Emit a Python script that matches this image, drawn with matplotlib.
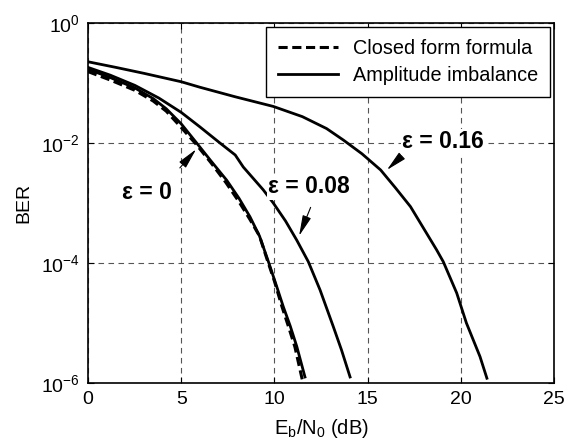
import matplotlib
matplotlib.use("Agg")
import matplotlib.pyplot as plt
import numpy as np

plt.rcParams['font.family'] = ['Liberation Sans', 'DejaVu Sans']
plt.rcParams['mathtext.fontset'] = 'custom'
plt.rcParams['mathtext.rm'] = 'Liberation Sans'
plt.rcParams['mathtext.it'] = 'Liberation Sans:italic'
plt.rcParams['mathtext.bf'] = 'Liberation Sans:bold'

# Closed form formula (dashed)
closed_x = [0, 1.2, 2.5, 3.5, 4.2, 5.0, 5.8, 6.6, 7.4, 8.1, 8.7, 9.2, 9.6, 10.0, 10.4, 10.8, 11.1, 11.5]
closed_ber = [0.155, 0.112, 0.0759, 0.0501, 0.0339, 0.0182, 0.00955, 0.00468, 0.00219, 0.00105,
              5.25e-4, 2.82e-4, 1.17e-4, 5.0e-5, 1.9e-5, 7.9e-6, 4.0e-6, 1.12e-6]

# Amplitude imbalance, eps = 0
eps0_x = [0, 1.2, 2.5, 3.5, 4.2, 5.0, 5.83, 6.6, 7.44, 8.1, 8.69, 9.2, 9.68, 10.1, 10.48, 10.85, 11.2, 11.64]
eps0_ber = [0.170, 0.123, 0.0832, 0.0550, 0.0372, 0.0209, 0.0100, 0.00501, 0.00240, 0.00120,
            5.89e-4, 2.82e-4, 1.05e-4, 4.27e-5, 1.86e-5, 8.9e-6, 4.07e-6, 1.26e-6]

# eps = 0.08
eps008_x = [0, 1.2, 2.52, 3.8, 5.0, 6.0, 7.08, 7.9, 8.33, 9.4, 9.94, 10.6, 11.2, 11.82, 12.45, 13.16, 13.6, 14.06]
eps008_ber = [0.182, 0.135, 0.0912, 0.0562, 0.0324, 0.0186, 0.0100, 0.00631, 0.00398, 0.00166,
              0.00100, 5.0e-4, 2.4e-4, 1.05e-4, 3.55e-5, 8.7e-6, 3.55e-6, 1.26e-6]

# eps = 0.16
eps016_x = [0, 1.5, 3.0, 5.0, 6.0, 7.9, 9.94, 11.5, 12.8, 13.7, 14.7, 15.7, 16.5, 17.3, 18.0,
            18.7, 19.06, 19.78, 20.3, 21.03, 21.4]
eps016_ber = [0.226, 0.182, 0.145, 0.105, 0.0851, 0.0589, 0.0407, 0.0275, 0.0174, 0.0112, 0.0066,
              0.00355, 0.00178, 8.7e-4, 3.8e-4, 1.66e-4, 1.05e-4, 3.16e-5, 1.0e-5, 2.75e-6, 1.2e-6]

x_ticks = [0, 5, 10, 15, 20, 25]
y_ticks = [1e-6, 1e-4, 1e-2, 1e0]
y_tick_labels = [r'$10^{-6}$', r'$10^{-4}$', r'$10^{-2}$', r'$10^{0}$']

fig = plt.figure(figsize=(5.75, 4.46), dpi=100)
ax = fig.add_axes([0.153, 0.1413, 0.8105, 0.8071])

ax.semilogy(closed_x, closed_ber, color='black', lw=2.2, linestyle=(0, (3, 1.5)),
            label='Closed form formula', zorder=4)
ax.semilogy(eps0_x, eps0_ber, color='black', lw=2.0, label='Amplitude imbalance', zorder=3)
ax.semilogy(eps008_x, eps008_ber, color='black', lw=2.0, zorder=3)
ax.semilogy(eps016_x, eps016_ber, color='black', lw=2.0, zorder=3)

ax.set_xlim(0, 25)
ax.set_ylim(1e-6, 1e0)
ax.set_xticks(x_ticks)
ax.set_yticks(y_ticks)
ax.set_yticklabels(y_tick_labels)
ax.yaxis.set_minor_locator(matplotlib.ticker.NullLocator())
ax.tick_params(axis='both', which='major', direction='in', top=True, right=True,
               labelsize=14, length=4, width=0.8, pad=6)
for s in ax.spines.values():
    s.set_linewidth(1.2)

ax.grid(True, which='major', color='#555555', linestyle=(0, (5, 4)), linewidth=0.8)

ax.set_xlabel(r'E$_\mathregular{b}$/N$_\mathregular{0}$ (dB)', fontsize=14.5, labelpad=6)
ax.set_ylabel('BER', fontsize=14, labelpad=6)

leg = ax.legend(loc='upper right', fontsize=14.3, frameon=True, fancybox=False,
                edgecolor='black', framealpha=1, handlelength=3.0,
                borderaxespad=0.2, borderpad=0.6, labelspacing=0.42, handletextpad=0.75)
leg.get_frame().set_linewidth(1.0)

bbox = dict(facecolor='white', edgecolor='none', pad=1)
arrow = dict(arrowstyle='-|>,head_length=0.7,head_width=0.15', color='black', lw=0.8,
             mutation_scale=18)

ax.annotate('', xy=(5.9, 10**-2.07), xytext=(4.83, 10**-2.45), arrowprops=arrow, zorder=5)
ax.text(1.8, 10**-2.82, 'ε = 0', fontsize=16.5, fontweight='bold', ha='left', va='center',
        bbox=bbox, zorder=5)

ax.annotate('', xy=(11.27, 10**-3.59), xytext=(12.0, 10**-3.03), arrowprops=arrow, zorder=5)
ax.text(9.66, 10**-2.73, 'ε = 0.08', fontsize=16.5, fontweight='bold', ha='left', va='center',
        bbox=bbox, zorder=5)

ax.annotate('', xy=(15.93, 10**-2.48), xytext=(16.65, 10**-2.27), arrowprops=arrow, zorder=5)
ax.text(16.84, 10**-1.98, 'ε = 0.16', fontsize=16.5, fontweight='bold', ha='left', va='center',
        bbox=bbox, zorder=5)

fig.savefig('out.png', dpi=100)
